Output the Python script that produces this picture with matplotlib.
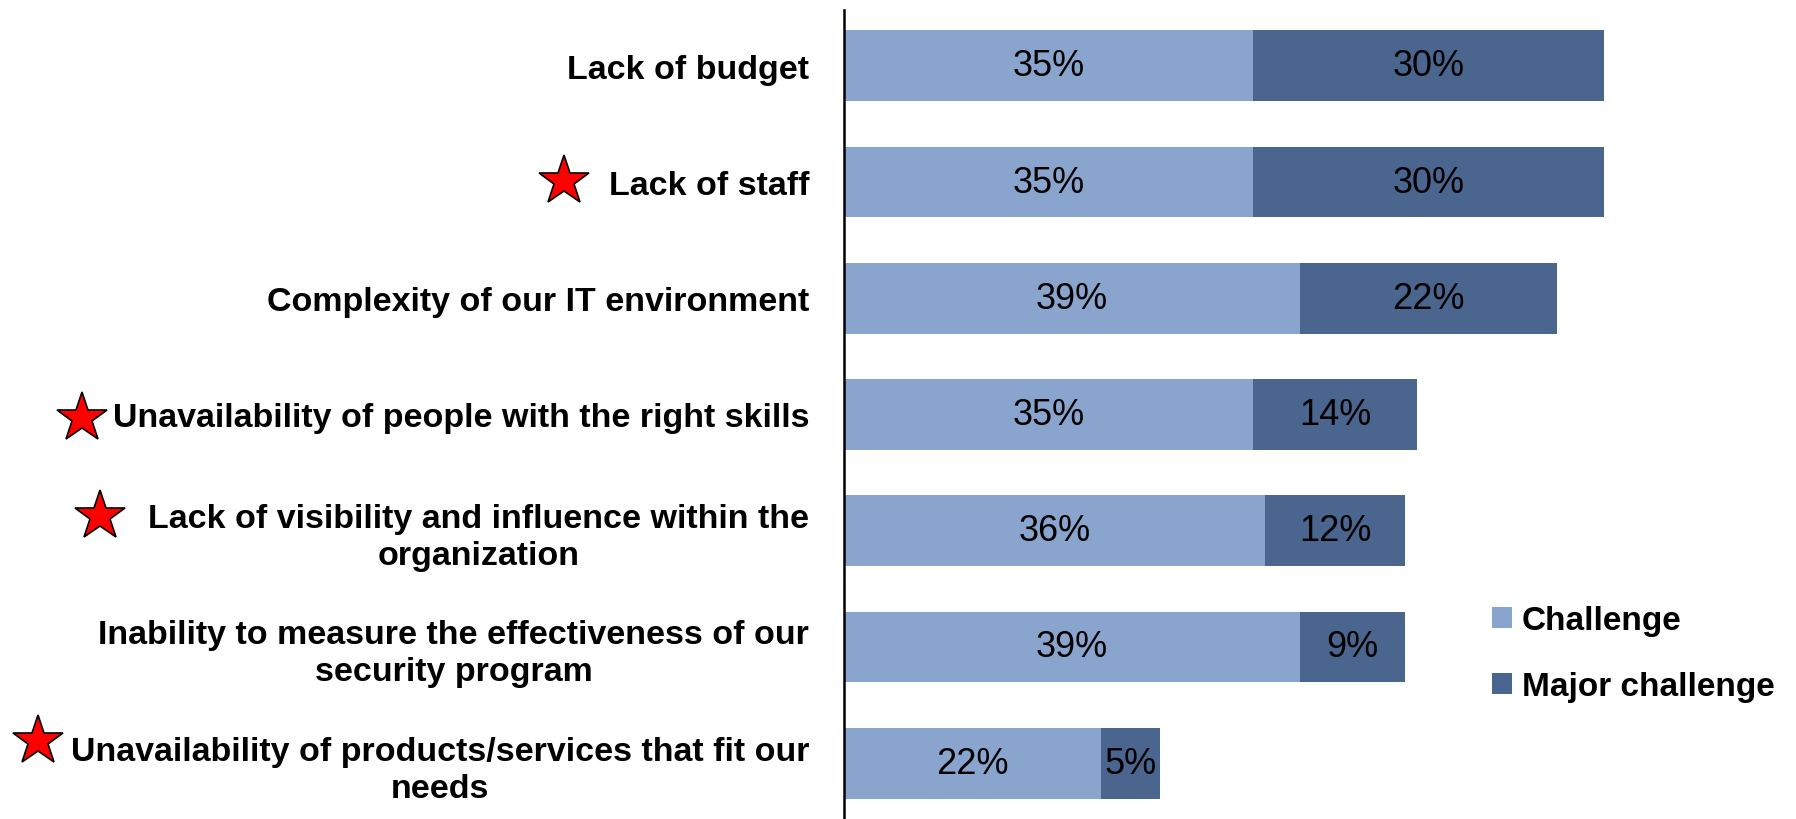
import matplotlib
matplotlib.use("Agg")
import matplotlib.pyplot as plt
from matplotlib.patches import Patch
from matplotlib.transforms import blended_transform_factory

categories = [
    "Lack of budget",
    "Lack of staff",
    "Complexity of our IT environment",
    "Unavailability of people with the right skills",
    "Lack of visibility and influence within the\norganization",
    "Inability to measure the effectiveness of our\nsecurity program",
    "Unavailability of products/services that fit our\nneeds",
]
challenge = [35, 35, 39, 35, 36, 39, 22]
major = [30, 30, 22, 14, 12, 9, 5]
starred = [False, True, False, True, True, False, True]
series_names = ["Challenge", "Major challenge"]

# star placement (figure x in px, offset in rows)
star_x = [None, 564, None, 82, 100, None, 38]
star_dy = [0, -0.01, 0, 0.03, -0.13, 0, -0.19]

c_light = "#89A4CD"
c_dark = "#4A658E"

plt.rcParams['font.family'] = ['Liberation Sans', 'DejaVu Sans']

W, H = 1796, 820
fig = plt.figure(figsize=(W / 100, H / 100), dpi=100)
ax = fig.add_axes([844 / W, 0, 1 - 844 / W, 1 - 11 / H])

y = list(range(len(categories)))
bh = 0.61
ax.barh(y, challenge, height=bh, color=c_light, label=series_names[0])
ax.barh(y, major, left=challenge, height=bh, color=c_dark, label=series_names[1])

for i in y:
    ax.text(challenge[i] / 2, i, f"{challenge[i]}%", ha="center", va="center",
            fontsize=26, color="black")
    ax.text(challenge[i] + major[i] / 2, i, f"{major[i]}%", ha="center", va="center",
            fontsize=26, color="black")

ax.set_xlim(0, (W - 844) / ((1604 - 844) / 65))
ax.set_ylim(len(categories) - 0.52, -0.48)
ax.set_yticks(y)
ax.set_yticklabels(categories, fontsize=24.5, fontweight="bold")
for t in ax.get_yticklabels():
    t.set_multialignment("center")
    t.set_linespacing(1.25)
ax.tick_params(axis="y", length=0, pad=25)
ax.tick_params(axis="x", bottom=False, labelbottom=False)
for s in ["top", "right", "bottom"]:
    ax.spines[s].set_visible(False)
ax.spines["left"].set_linewidth(1.8)
ax.spines["left"].set_color("black")

tr = blended_transform_factory(fig.transFigure, ax.transData)
for i in y:
    if starred[i]:
        ax.plot([star_x[i] / W], [i + star_dy[i]], marker="*", markersize=38,
                markerfacecolor="#FF0000", markeredgecolor="black",
                markeredgewidth=1.2, transform=tr, clip_on=False)

handles = [Patch(facecolor=c_light, label=series_names[0]),
           Patch(facecolor=c_dark, label=series_names[1])]
fig.legend(handles=handles, loc="upper left", bbox_to_anchor=(1492 / W, 1 - 606 / H),
           frameon=False, prop={"weight": "bold", "size": 24},
           handlelength=0.6, handleheight=0.6, handletextpad=0.3,
           labelspacing=1.05, borderpad=0, borderaxespad=0)

fig.savefig("out.png", dpi=100)
